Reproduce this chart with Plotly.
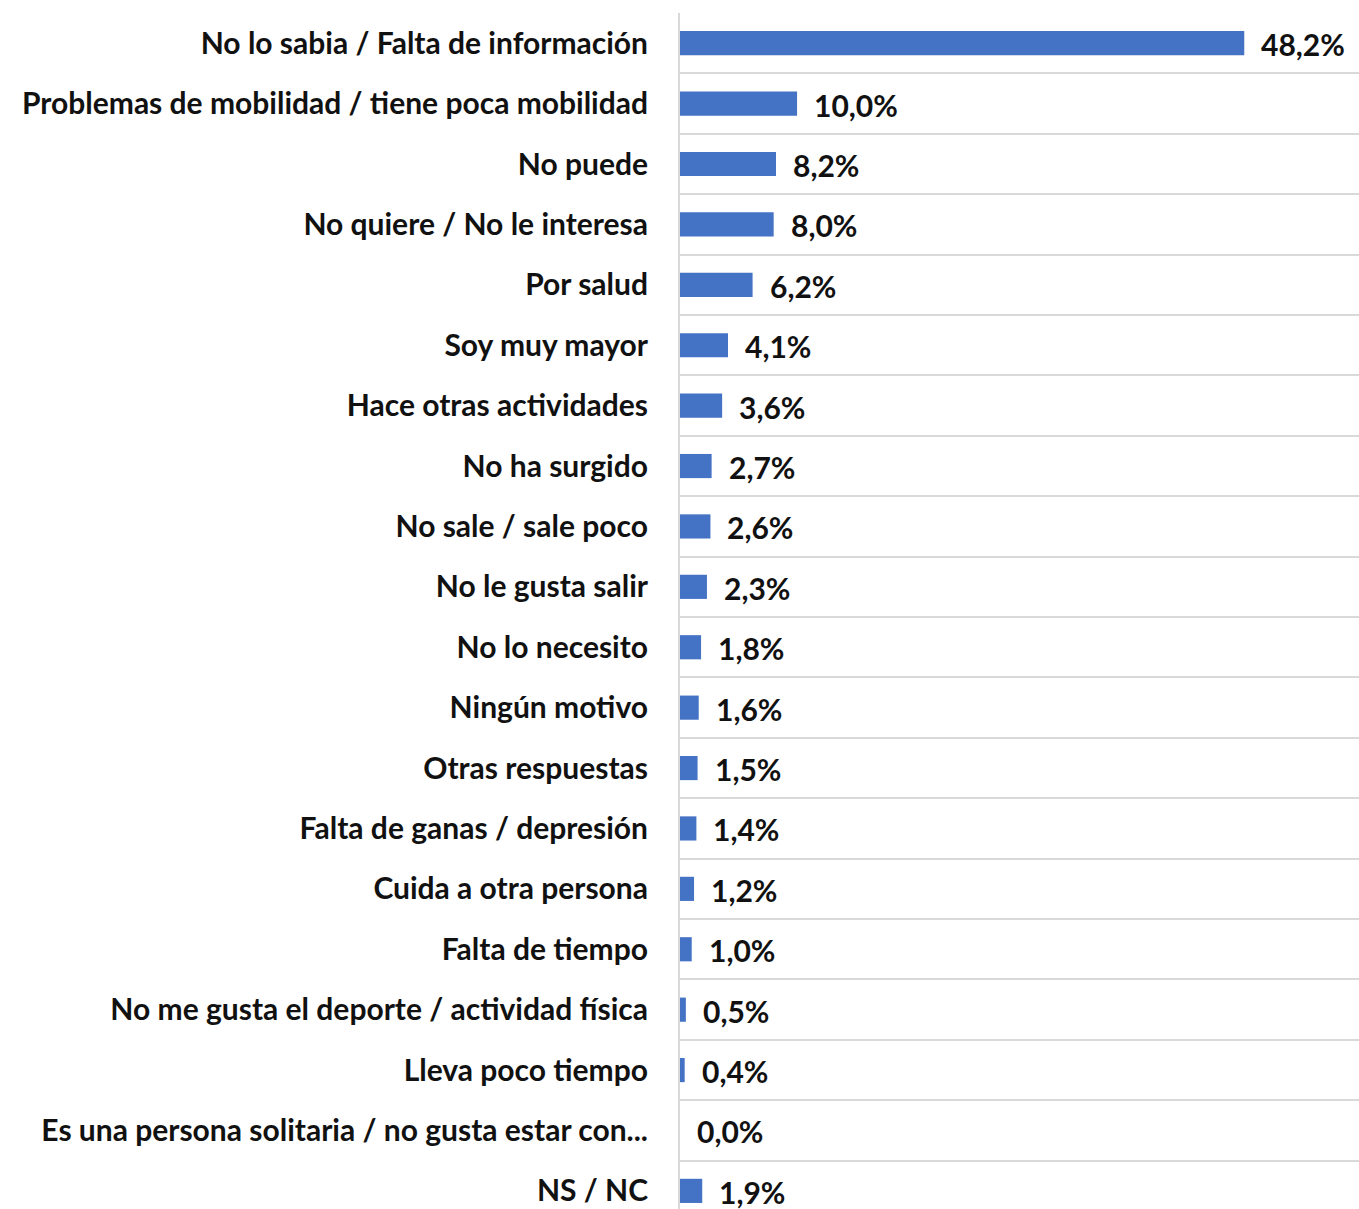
import plotly.graph_objects as go

categories = [
    "No lo sabia / Falta de información",
    "Problemas de mobilidad / tiene poca mobilidad",
    "No puede",
    "No quiere / No le interesa",
    "Por salud",
    "Soy muy mayor",
    "Hace otras actividades",
    "No ha surgido",
    "No sale / sale poco",
    "No le gusta salir",
    "No lo necesito",
    "Ningún motivo",
    "Otras respuestas",
    "Falta de ganas / depresión",
    "Cuida a otra persona",
    "Falta de tiempo",
    "No me gusta el deporte / actividad física",
    "Lleva poco tiempo",
    "Es una persona solitaria / no gusta estar con...",
    "NS / NC",
]
values = [48.2, 10.0, 8.2, 8.0, 6.2, 4.1, 3.6, 2.7, 2.6, 2.3, 1.8, 1.6, 1.5, 1.4, 1.2, 1.0, 0.5, 0.4, 0.0, 1.9]
labels = [f"{v:.1f}".replace(".", ",") + "%" for v in values]

FONT = "Lato"
SIZE = 30
fig = go.Figure()
fig.add_trace(go.Bar(
    x=values, y=categories, orientation="h",
    marker=dict(color="#4472C4", line=dict(width=0)),
    hoverinfo="skip",
))
for c, v, t in zip(categories, values, labels):
    fig.add_annotation(x=v, y=c, text=t, showarrow=False, xanchor="left",
                       xshift=15, yshift=-1,
                       font=dict(family=FONT, size=SIZE, color="#111111", weight="bold"))

fig.update_layout(
    width=1359, height=1209,
    margin=dict(l=680, r=0, t=13, b=0),
    paper_bgcolor="white", plot_bgcolor="white",
    bargap=0.6, showlegend=False,
    font=dict(family=FONT, size=SIZE, color="#111111", weight="bold"),
)
fig.update_xaxes(range=[0, 58], visible=False, showgrid=False, zeroline=False)
fig.update_yaxes(
    type="category", categoryorder="array", categoryarray=categories,
    range=[19.3, -0.5], tickson="boundaries", showgrid=True,
    gridcolor="#d9d9d9", gridwidth=2, showline=True, linecolor="#d9d9d9",
    linewidth=2, ticks="", ticklabelstandoff=24,
    tickfont=dict(family=FONT, size=SIZE, color="#111111", weight="bold"),
)
fig.write_html(
    "out.html",
    config={"displayModeBar": False},
    post_script="document.body.style.margin='0px';document.body.style.overflow='hidden';",
)
